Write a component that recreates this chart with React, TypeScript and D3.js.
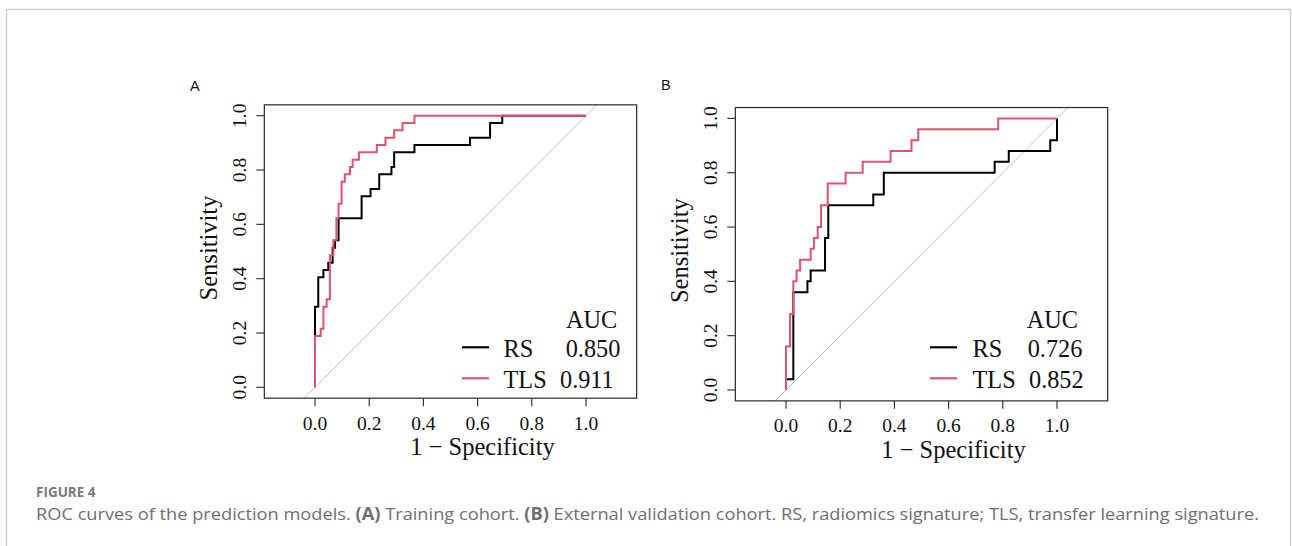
import * as d3 from 'd3'
import React from 'react'

// tick values shared by both panels
const xTicks = [0, 0.2, 0.4, 0.6, 0.8, 1.0]
const yTicks = [0, 0.2, 0.4, 0.6, 0.8, 1.0]

// ROC corner points (1 - specificity, sensitivity)
// panel A - training cohort
const trainRsFpr = [0, 0, 0.012, 0.031, 0.049, 0.065, 0.074, 0.087, 0.172, 0.205, 0.237, 0.282, 0.292, 0.367, 0.572, 0.646, 0.691, 1]
const trainRsTpr = [0, 0.297, 0.405, 0.432, 0.459, 0.514, 0.541, 0.622, 0.703, 0.73, 0.784, 0.811, 0.865, 0.892, 0.919, 0.973, 1, 1]
const trainTlsFpr = [0, 0, 0.021, 0.031, 0.043, 0.055, 0.068, 0.079, 0.087, 0.098, 0.11, 0.129, 0.139, 0.162, 0.228, 0.26, 0.292, 0.323, 0.367, 1]
const trainTlsTpr = [0, 0.189, 0.216, 0.297, 0.324, 0.486, 0.541, 0.622, 0.676, 0.757, 0.784, 0.811, 0.838, 0.865, 0.892, 0.919, 0.946, 0.973, 1, 1]

// panel B - external validation cohort
const validRsFpr = [0, 0, 0.027, 0.079, 0.091, 0.144, 0.156, 0.322, 0.361, 0.77, 0.822, 0.975, 1, 1]
const validRsTpr = [0, 0.04, 0.36, 0.4, 0.44, 0.56, 0.68, 0.72, 0.8, 0.84, 0.88, 0.92, 1, 1]
const validTlsFpr = [0, 0, 0.015, 0.027, 0.039, 0.052, 0.091, 0.103, 0.117, 0.129, 0.154, 0.22, 0.283, 0.386, 0.463, 0.488, 0.783, 1]
const validTlsTpr = [0, 0.16, 0.28, 0.4, 0.44, 0.48, 0.52, 0.56, 0.6, 0.68, 0.76, 0.8, 0.84, 0.88, 0.92, 0.96, 1, 1]

const seriesNames = ['RS', 'TLS']
const trainAuc = ['0.850', '0.911']
const validAuc = ['0.726', '0.852']
const seriesColors = ['#000000', '#DF536B']

const serif = '"Liberation Serif", "Times New Roman", serif'
const sans = '"Liberation Sans", Arial, sans-serif'

function zip (xs: number[], ys: number[]): [number, number][] {
    return xs.map((x, i) => [x, ys[i]])
}

type PanelProps = {
    label: string
    dx: number
    dy: number
    curves: [number, number][][]
    aucs: string[]
    legend: { line: number, name: number, values: number[], auc: number }
}

function RocPanel ({ label, dx, dy, curves, aucs, legend }: PanelProps) {
    // same geometry for both panels, B is just shifted
    const x = d3.scaleLinear().domain([0, 1]).range([315, 586])
    const y = d3.scaleLinear().domain([0, 1]).range([387.3, 115.7])
    const xDom = [-0.187, 1.187]
    const yDom = [-0.04, 1.04]

    const line = d3.line<[number, number]>()
        .x(d => x(d[0]))
        .y(d => y(d[1]))
        .curve(d3.curveStepAfter)

    const boxL = x(xDom[0]), boxR = x(xDom[1])
    const boxT = y(yDom[1]), boxB = y(yDom[0])

    return (
        <g transform={`translate(${dx},${dy})`}>
            <text x={190} y={90.5 - dy} fontFamily={sans} fontSize={14.5} fill='#111'>{label}</text>

            {/* diagonal reference */}
            <line x1={x(-0.04)} y1={y(-0.04)} x2={x(1.04)} y2={y(1.04)} stroke='#BEBEBE' strokeWidth={1} />

            {curves.map((c, i) => (
                <path key={i} d={line(c) || ''} fill='none' stroke={seriesColors[i]} strokeWidth={2} />
            ))}

            <rect x={boxL} y={boxT} width={boxR - boxL} height={boxB - boxT} fill='none' stroke='#2a2a2a' strokeWidth={1.2} />

            {/* x axis */}
            {xTicks.map(t => (
                <g key={'x' + t}>
                    <line x1={x(t)} x2={x(t)} y1={boxB} y2={boxB + 8} stroke='#2a2a2a' strokeWidth={1.1} />
                    <text x={x(t)} y={429.5} textAnchor='middle' fontFamily={serif} fontSize={19.5} fill='#111'>{t.toFixed(1)}</text>
                </g>
            ))}
            <text x={482.5} y={455} textAnchor='middle' fontFamily={serif} fontSize={24.5} fill='#111'>1 − Specificity</text>

            {/* y axis */}
            {yTicks.map(t => (
                <g key={'y' + t}>
                    <line x1={boxL - 8} x2={boxL} y1={y(t)} y2={y(t)} stroke='#2a2a2a' strokeWidth={1.1} />
                    <text transform={`translate(245.5,${y(t)}) rotate(-90)`} textAnchor='middle' fontFamily={serif} fontSize={19.5} fill='#111'>{t.toFixed(1)}</text>
                </g>
            ))}
            <text transform={`translate(217,248) rotate(-90)`} textAnchor='middle' fontFamily={serif} fontSize={24.5} fill='#111'>Sensitivity</text>

            {/* legend */}
            <text x={legend.auc} y={328.3 - dy} fontFamily={serif} fontSize={24.3} fill='#111'>AUC</text>
            {seriesNames.map((n, i) => {
                const ly = 347.3 + i * 31 - dy
                return (
                    <g key={n}>
                        <line x1={legend.line} x2={legend.line + 27} y1={ly} y2={ly} stroke={seriesColors[i]} strokeWidth={2.2} />
                        <text x={legend.name} y={ly + 9.4} fontFamily={serif} fontSize={24.3} fill='#111'>{n}</text>
                        <text x={legend.values[i]} y={ly + 9.4} fontFamily={serif} fontSize={24.3} fill='#111'>{aucs[i]}</text>
                    </g>
                )
            })}
        </g>
    )
}

export default function App () {
    const W = 1292, H = 546
    return (
        <svg width={W} height={H} style={{ position: 'absolute', left: 0, top: 0, display: 'block', background: '#fff' }}>
            {/* outer figure frame */}
            <path d={`M6.5,${H}V9.5H1290.5V${H}`} fill='none' stroke='#d4d4d4' strokeWidth={1.5} />

            <RocPanel label='A' dx={0} dy={0}
                curves={[zip(trainRsFpr, trainRsTpr), zip(trainTlsFpr, trainTlsTpr)]}
                aucs={trainAuc}
                legend={{ line: 462, name: 503.5, values: [565.7, 560], auc: 566 }} />
            <RocPanel label='B' dx={471} dy={2.7}
                curves={[zip(validRsFpr, validRsTpr), zip(validTlsFpr, validTlsTpr)]}
                aucs={validAuc}
                legend={{ line: 930 - 471, name: 972.5 - 471, values: [1027.7 - 471, 1029 - 471], auc: 1026.7 - 471 }} />

            {/* caption */}
            <text x={36} y={497} fontFamily='"Open Sans", sans-serif' fontWeight={700} fontSize={13.5} fill='#7a7a7a'>FIGURE 4</text>
            <text x={36} y={520} fontFamily='"Open Sans", sans-serif' fontSize={17} fill='#6f6f6f'
                textLength={1223} lengthAdjust='spacingAndGlyphs'>
                ROC curves of the prediction models. <tspan fontWeight={700}>(A)</tspan> Training cohort. <tspan fontWeight={700}>(B)</tspan> External validation cohort. RS, radiomics signature; TLS, transfer learning signature.
            </text>
        </svg>
    )
}
